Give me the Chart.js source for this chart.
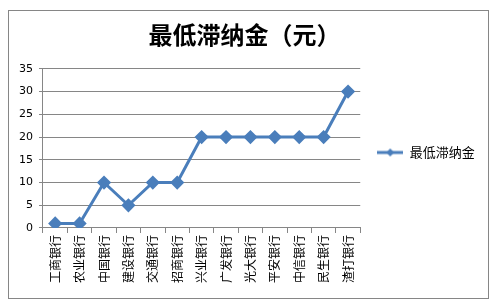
<!DOCTYPE html>
<html><head><meta charset="utf-8">
<script src="https://cdn.jsdelivr.net/npm/chart.js@4"></script>
<style>html,body{margin:0;padding:0;background:#fff;}#wrap{width:497px;height:307px;position:relative;}</style>
</head><body><div id="wrap"><canvas id="c" width="497" height="307"></canvas></div>
<script>
const categories = ['工商银行','农业银行','中国银行','建设银行','交通银行','招商银行','兴业银行','广发银行','光大银行','平安银行','中信银行','民生银行','渣打银行'];
const seriesName = '最低滞纳金';
const values = [1,1,10,5,10,10,20,20,20,20,20,20,30];
const yTicks = [0,5,10,15,20,25,30,35];
const titleText = '最低滞纳金（元）';
const lineColor = '#4A7EBB';

const legendIcon = document.createElement('canvas');
legendIcon.width = 26; legendIcon.height = 10;
(function(){const g=legendIcon.getContext('2d');g.strokeStyle=lineColor;g.lineWidth=3;g.beginPath();g.moveTo(0,5);g.lineTo(26,5);g.stroke();g.fillStyle=lineColor;g.beginPath();g.moveTo(13,1);g.lineTo(17,5);g.lineTo(13,9);g.lineTo(9,5);g.closePath();g.fill();})();

const borderPlugin = {id:'outerBorder', afterDraw(chart){const c=chart.ctx;c.save();c.strokeStyle='#868686';c.lineWidth=1;c.strokeRect(8.5,10.5,480,288);c.restore();}};

new Chart(document.getElementById('c'), {
  type:'line',
  data:{labels:categories, datasets:[{label:seriesName, data:values, borderColor:lineColor, backgroundColor:lineColor, borderWidth:3, pointStyle:'rectRot', pointRadius:5, pointHoverRadius:5, tension:0, fill:false}]},
  options:{
    responsive:false, animation:false, devicePixelRatio:1,
    layout:{padding:{left:13,right:21,top:20,bottom:22}},
    plugins:{
      title:{display:true,text:titleText,color:'#000',font:{family:'"Noto Sans CJK SC"',size:24,weight:'bold'},padding:{top:0,bottom:20}},
      legend:{position:'right',align:'center',labels:{color:'#000',font:{family:'"Noto Sans CJK SC"',size:13},usePointStyle:true,pointStyleWidth:26,padding:17,
        generateLabels(chart){return [{text:seriesName,pointStyle:legendIcon,fillStyle:lineColor,strokeStyle:lineColor,lineWidth:0,datasetIndex:0,fontColor:'#000'}];}}},
      tooltip:{enabled:false}
    },
    scales:{
      x:{offset:true,grid:{display:true,drawOnChartArea:false,offset:true,color:'#868686',tickLength:5},border:{color:'#868686'},
         ticks:{color:'#000',font:{family:'"Noto Sans CJK SC"',size:12},minRotation:90,maxRotation:90,autoSkip:false,padding:2}},
      y:{min:0,max:35,afterBuildTicks(s){s.ticks=yTicks.map(v=>({value:v}));},grid:{color:'#868686',tickLength:4},border:{color:'#868686'},
         ticks:{color:'#000',font:{family:'"DejaVu Sans"',size:11},padding:6}}
    }
  },
  plugins:[borderPlugin]
});
</script></body></html>
